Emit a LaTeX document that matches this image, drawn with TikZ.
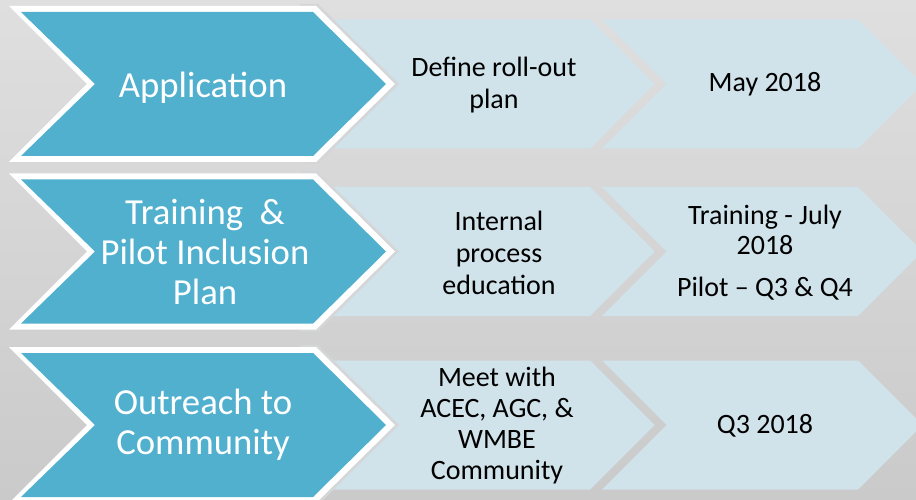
\documentclass[tikz,border=0pt]{standalone}
\usepackage{fontspec}
\setmainfont{Carlito}
\begin{document}
\begin{tikzpicture}[x=1pt,y=-1pt]
\definecolor{stageblue}{HTML}{50B0CE}
\definecolor{paleblue}{HTML}{D0E2EA}
\definecolor{bgtop}{HTML}{DFDFDF}
\definecolor{bgbottom}{HTML}{CACACA}
\definecolor{halo}{HTML}{D4D6D7}
\tikzset{
  stagetext/.style={text=white, align=center, inner sep=0pt,
    font=\fontsize{36.7}{40}\selectfont},
  steptext/.style={text=black, align=center, inner sep=0pt,
    font=\fontsize{28}{32}\selectfont},
  palechevron/.style={fill=paleblue},
}
\useasboundingbox (0,0) rectangle (916,500);
\clip (0,0) rectangle (916,500);
% backdrop
\shade[top color=bgtop, bottom color=bgbottom] (0,0) rectangle (916,500);

% three rows of chevrons, centred at the given heights
\foreach \c in {84,251.5,425} {
  % second step (pale)
  \fill[palechevron] (602,\c-64.5) -- (858,\c-64.5) -- (922.5,\c)
    -- (858,\c+64.5) -- (602,\c+64.5) -- (666.5,\c) -- cycle;
  % first step (pale), tucked under the stage chevron
  \fill[palechevron] (320,\c-64.5) -- (590,\c-64.5) -- (654.5,\c)
    -- (590,\c+64.5) -- (320,\c+64.5) -- cycle;
  % soft shadow along the stage chevron's point
  \fill[halo] (300,\c-80) -- (318,\c-80) -- (399,\c) -- (318,\c+80)
    -- (300,\c+80) -- cycle;
  % white rim of the stage chevron
  \fill[white] (9,\c-78) -- (316,\c-78) -- (395,\c) -- (316,\c+78)
    -- (9,\c+78) -- (87,\c) -- cycle;
  % stage chevron
  \fill[stageblue] (21,\c-72) -- (313,\c-72) -- (386,\c) -- (313,\c+72)
    -- (21,\c+72) -- (95,\c) -- cycle;
}

% stage labels
\node[stagetext] (app) at (203,88) {Application};
\node[stagetext] (train) at (205,252) {Training~ \&\\Pilot Inclusion\\Plan};
\node[stagetext] (outreach) at (203,425) {Outreach to\\Community};

% step labels
\node[steptext] (define) at (494,85) {Define roll-out\\plan};
\node[steptext] (may) at (765,84) {May 2018};
\node[steptext] (internal) at (499,253) {Internal\\process\\education};
\node[steptext, font=\fontsize{28}{30}\selectfont] (trainjuly) at (765,253)
  {Training - July\\2018\\[12pt]Pilot – Q3 \& Q4};
\node[steptext, font=\fontsize{28}{31}\selectfont] (meet) at (497,426)
  {Meet with\\ACEC, AGC, \&\\WMBE\\Community};
\node[steptext] (q3) at (765,426) {Q3 2018};
\end{tikzpicture}
\end{document}
